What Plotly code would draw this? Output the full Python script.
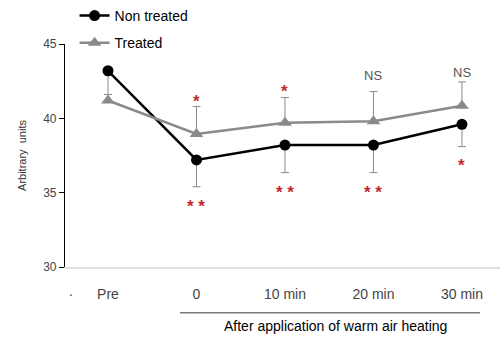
import plotly.graph_objects as go

categories = ["Pre", "0", "10 min", "20 min", "30 min"]
x_pos = [1, 2, 3, 4, 5]
non_treated = [43.2, 37.2, 38.2, 38.2, 39.6]
non_treated_err = [1.6, 1.8, 1.85, 1.85, 1.5]
treated = [41.2, 38.95, 39.7, 39.8, 40.85]
treated_err = [0.0, 1.85, 1.7, 2.0, 1.6]
upper_marks = ["", "*", "*", "NS", "NS"]
upper_y = [None, 41.1, 41.8, 42.85, 43.05]
lower_marks = ["", "* *", "* *", "* *", "*"]
lower_y = [None, 34.05, 35.0, 35.0, 36.8]

RED = "#c0282d"
GRAY = "#8a8a8a"
FONT = "Liberation Sans, Arial, sans-serif"

fig = go.Figure()
fig.add_trace(go.Scatter(
    x=x_pos, y=non_treated, name="Non treated", legendgroup="a",
    mode="lines+markers",
    line=dict(color="black", width=2.5),
    marker=dict(symbol="circle", size=11, color="black"),
    error_y=dict(type="data", symmetric=False, array=[0]*5, arrayminus=non_treated_err,
                 color=GRAY, thickness=1, width=4),
))
fig.add_trace(go.Scatter(
    x=x_pos, y=treated, name="Treated", legendgroup="b",
    mode="lines+markers",
    line=dict(color=GRAY, width=2.5),
    marker=dict(symbol="triangle-up", size=12, color=GRAY),
    error_y=dict(type="data", symmetric=False, array=treated_err, arrayminus=[0]*5,
                 color=GRAY, thickness=1, width=4),
))

for xv, t, yv in zip(x_pos, upper_marks, upper_y):
    if t:
        is_ns = t == "NS"
        fig.add_annotation(x=xv, y=yv, text=t if is_ns else "<b>" + t + "</b>",
                           showarrow=False, xref="x", yref="y",
                           font=dict(family=FONT, size=13 if is_ns else 17,
                                     color="#555555" if is_ns else RED))
for xv, t, yv in zip(x_pos, lower_marks, lower_y):
    if t:
        fig.add_annotation(x=xv, y=yv, text="<b>" + t + "</b>", showarrow=False,
                           xref="x", yref="y",
                           font=dict(family=FONT, size=17, color=RED))

# underline bracket and label
fig.add_shape(type="line", xref="paper", yref="paper", x0=(180-65)/435, x1=(480-65)/435,
              y0=-(313-267)/224, y1=-(313-267)/224, line=dict(color="#777777", width=1.5))
fig.add_annotation(xref="paper", yref="paper", x=(335-65)/435, y=-(336-267)/224,
                   text="After application of warm air heating", showarrow=False,
                   font=dict(family=FONT, size=14, color="black"))

fig.update_layout(
    width=500, height=345,
    margin=dict(l=65, r=0, t=43, b=78),
    paper_bgcolor="white", plot_bgcolor="white",
    font=dict(family=FONT, color="#444444"),
    showlegend=True,
    legend=dict(x=0.022, y=1.2, xanchor="left", yanchor="top",
                font=dict(family=FONT, size=14, color="black"),
                tracegroupgap=6, bgcolor="rgba(0,0,0,0)", traceorder="grouped"),
    xaxis=dict(range=[0.514, 5.43], tickmode="array",
               tickvals=[0.58] + x_pos, ticktext=["·"] + categories,
               showgrid=False, zeroline=False, showline=True, linecolor="#e0e0e0",
               linewidth=1.5, ticks="", tickfont=dict(size=14, color="#444444"),
               ticklabelstandoff=13),
    yaxis=dict(range=[30, 45], tickvals=[30, 35, 40, 45], showgrid=False, zeroline=False,
               showline=True, linecolor="black", linewidth=1.2, ticks="outside",
               ticklen=5, tickcolor="black", tickfont=dict(size=12, color="#444444"),
               title=dict(text="Arbitrary  units", font=dict(size=11, color="#333333"),
                          standoff=14)),
)

fig.write_html("out.html")
